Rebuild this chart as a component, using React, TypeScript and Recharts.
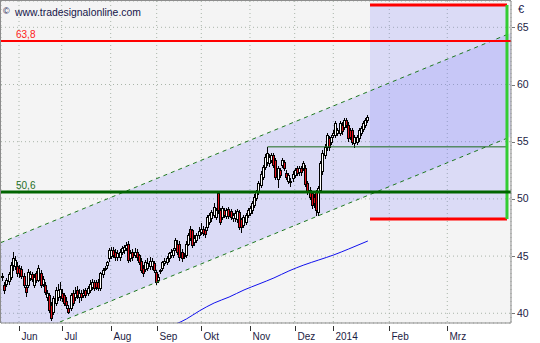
import React from 'react';
import { ComposedChart, Bar, Line, Area, XAxis, YAxis, CartesianGrid, ReferenceLine } from 'recharts';

// ---- candle data (trading-day index i = position in arrays) ----
const opens = [
  43.2, 42.5, 42.6, 42.8, 43.2, 44.2, 44.1, 44.1, 44.0, 43.9,
  43.3, 42.3, 42.5, 43.1, 43.4, 42.5, 43.5, 42.9, 43.5, 42.6,
  42.5, 41.4, 41.6, 40.7, 40.1, 40.9, 41.4, 41.5, 41.8, 41.6,
  41.1, 40.5, 40.5, 41.8, 41.4, 42.0, 41.4, 41.8, 41.6, 42.0,
  41.8, 42.0, 42.3, 42.7, 42.7, 42.7, 42.2, 43.4, 43.95, 44.2,
  44.8, 45.0, 45.5, 45.4, 44.9, 44.9, 45.4, 45.5, 45.7, 46.1,
  44.8, 45.4, 45.1, 45.4, 45.1, 44.6, 44.0, 43.9, 44.0, 44.1,
  44.1, 44.4, 43.6, 42.9, 43.7, 44.0, 44.4, 44.5, 44.8, 45.1,
  45.1, 45.7, 46.1, 46.1, 45.4, 45.05, 45.1, 46.1, 47.4, 47.3,
  46.2, 46.4, 46.8, 47.1, 47.4, 47.3, 47.5, 48.0, 48.3, 48.6,
  48.4, 50.5, 49.0, 48.4, 49.0, 48.5, 49.1, 48.9, 48.35, 48.3,
  48.2, 48.85, 48.2, 47.7, 48.0, 48.6, 48.8, 49.0, 49.5, 50.1,
  50.6, 51.2, 51.9, 52.8, 53.2, 53.1, 53.4, 53.8, 53.4, 51.7,
  52.5, 53.0, 53.2, 52.3, 51.6, 51.5, 51.8, 52.1, 52.7, 52.35,
  52.7, 52.7, 52.7, 51.4, 50.8, 50.5, 50.2, 50.6, 48.85, 50.8,
  52.4, 53.8, 54.5, 55.3, 55.0, 55.6, 55.6, 55.8, 55.8, 56.5,
  56.3, 56.9, 56.5, 56.0, 56.0, 54.9, 55.0, 55.3, 55.8, 56.1,
  56.5, 56.9,
];
const highs = [
  43.5, 42.7, 43.1, 43.6, 44.5, 45.4, 45.0, 44.5, 44.2, 44.1,
  43.5, 42.5, 43.9, 43.7, 43.6, 43.4, 43.7, 44.2, 43.8, 43.3,
  42.7, 42.0, 41.8, 41.0, 41.5, 42.3, 42.6, 42.7, 42.1, 41.8,
  41.4, 40.7, 41.8, 42.0, 42.3, 42.4, 42.1, 42.0, 42.1, 42.2,
  42.4, 42.9, 43.0, 42.9, 42.9, 43.0, 43.6, 44.0, 44.1, 44.6,
  45.7, 45.8, 45.8, 45.6, 45.5, 45.6, 45.9, 46.0, 46.2, 46.3,
  45.5, 45.6, 45.7, 45.6, 45.2, 44.8, 44.2, 44.7, 44.8, 44.9,
  44.8, 44.6, 43.8, 43.4, 43.9, 44.6, 44.8, 45.0, 45.4, 45.6,
  45.7, 46.6, 46.4, 46.3, 45.6, 45.3, 46.3, 47.0, 47.6, 47.4,
  46.8, 47.0, 47.5, 47.9, 47.6, 47.5, 48.6, 48.8, 49.0, 49.6,
  49.2, 50.6, 49.2, 49.4, 49.2, 49.2, 49.3, 49.1, 48.8, 49.0,
  49.1, 49.0, 48.3, 48.6, 48.8, 49.2, 49.4, 49.8, 50.4, 50.8,
  51.6, 52.4, 53.0, 53.9, 54.55, 53.9, 54.0, 54.0, 53.6, 52.9,
  52.7, 53.6, 53.4, 52.5, 52.3, 51.8, 52.4, 52.7, 52.9, 52.9,
  52.9, 53.3, 53.0, 51.6, 51.0, 50.7, 50.4, 50.8, 51.1, 53.3,
  54.3, 54.8, 55.8, 55.5, 55.6, 56.0, 56.8, 56.2, 56.8, 56.7,
  57.1, 57.1, 56.7, 56.2, 56.2, 55.6, 55.6, 56.2, 56.4, 56.8,
  57.1, 57.3,
];
const lows = [
  42.9, 41.8, 42.4, 42.6, 43.0, 43.8, 43.9, 43.3, 43.2, 43.1,
  42.3, 41.5, 42.3, 42.9, 42.8, 42.3, 42.7, 42.8, 42.3, 42.4,
  41.7, 41.2, 40.1, 39.45, 39.9, 40.7, 41.2, 41.2, 41.1, 40.7,
  40.5, 40.0, 40.3, 40.7, 41.2, 41.3, 41.0, 41.2, 41.4, 41.4,
  41.6, 41.9, 42.1, 42.0, 42.1, 42.0, 42.0, 43.2, 43.8, 44.0,
  44.6, 44.8, 44.9, 44.7, 44.7, 44.7, 45.2, 45.3, 45.5, 44.5,
  44.6, 44.7, 44.9, 44.7, 44.3, 43.6, 43.3, 43.7, 43.8, 43.9,
  43.9, 43.6, 42.6, 42.7, 43.5, 43.8, 44.2, 44.3, 44.6, 44.9,
  44.9, 45.5, 45.2, 44.7, 44.6, 44.8, 44.9, 46.0, 46.4, 45.8,
  46.0, 46.2, 46.6, 46.9, 46.8, 46.7, 47.3, 47.8, 48.1, 48.4,
  48.2, 48.8, 47.8, 48.2, 48.4, 48.3, 48.3, 48.2, 48.1, 48.1,
  48.0, 47.4, 47.1, 47.5, 47.8, 48.4, 48.6, 48.8, 49.3, 49.9,
  50.4, 51.0, 51.7, 52.6, 53.0, 52.9, 53.2, 52.8, 51.7, 51.0,
  51.9, 52.8, 52.5, 51.7, 51.4, 51.1, 51.6, 51.9, 52.1, 52.1,
  52.1, 52.5, 51.1, 50.4, 50.0, 49.2, 49.3, 48.6, 48.6, 50.6,
  52.2, 53.6, 54.3, 54.3, 54.8, 55.4, 55.4, 55.6, 55.6, 55.7,
  56.1, 56.3, 55.1, 55.2, 54.8, 54.55, 54.8, 55.1, 55.6, 55.9,
  56.3, 56.7,
];
const closes = [
  43.3, 42.0, 42.9, 43.4, 44.2, 44.8, 44.7, 43.5, 43.5, 43.3,
  42.5, 41.9, 43.6, 43.4, 43.0, 43.2, 42.9, 44.0, 42.5, 43.0,
  41.9, 41.8, 40.3, 39.6, 41.3, 42.0, 42.0, 42.1, 41.3, 40.9,
  40.7, 40.1, 41.6, 40.9, 41.8, 41.6, 41.8, 41.4, 41.8, 41.6,
  42.2, 42.6, 42.7, 42.2, 42.3, 42.2, 43.5, 43.8, 44.0, 44.5,
  45.5, 45.5, 45.1, 44.9, 45.3, 45.4, 45.7, 45.8, 46.0, 44.7,
  45.3, 44.9, 45.4, 44.9, 44.5, 43.8, 43.5, 44.5, 44.4, 44.6,
  44.6, 43.8, 42.7, 43.2, 43.75, 44.5, 44.6, 44.8, 45.3, 45.4,
  45.5, 46.4, 45.4, 44.9, 44.8, 45.1, 46.1, 46.8, 46.6, 46.0,
  46.6, 46.8, 47.2, 47.4, 47.0, 46.9, 48.4, 48.6, 48.85, 49.3,
  49.0, 49.0, 48.0, 49.2, 48.6, 49.0, 48.5, 48.4, 48.6, 48.8,
  48.9, 47.55, 47.5, 48.4, 48.6, 49.0, 49.2, 49.6, 50.2, 50.6,
  51.4, 52.2, 52.8, 53.7, 54.0, 53.7, 53.8, 53.0, 51.9, 52.7,
  52.1, 53.4, 52.7, 51.9, 52.1, 51.55, 52.2, 52.5, 52.3, 52.7,
  52.35, 53.1, 51.3, 50.6, 50.2, 49.5, 49.6, 49.0, 50.95, 53.1,
  54.0, 54.5, 55.6, 54.5, 55.4, 55.8, 56.6, 56.0, 56.6, 55.9,
  56.9, 56.5, 55.3, 55.4, 55.0, 55.4, 55.4, 56.0, 56.2, 56.6,
  56.9, 57.15,
];

// ---- moving average (blue) ----
const maIdx = [76, 86, 92, 99, 106, 113, 120, 127, 134, 141, 148, 155, 162, 171];
const maVal = [38.7, 39.5, 40.2, 40.9, 41.42, 42.04, 42.56, 43.09, 43.7, 44.22, 44.66, 45.1, 45.62, 46.32];

// ---- trend channel ----
const chanIdx = [-1, 239];
const chanUpper = [46.17, 64.58];
const chanLower = [37.11, 55.52];

// ---- target box ----
const boxIdx = [172.0, 236.16];
const boxTop = 66.95;
const boxBottom = 48.24;

// ---- horizontal levels ----
const levelRed = 63.8;
const levelGreen = 50.6;
const resistStartIdx = 124;
const resistLevel = 54.55;

// ---- axes ----
const X_DOMAIN = [-0.843, 238.04];
const Y_DOMAIN = [39.15, 67.3];
const yTicks = [40, 45, 50, 55, 60, 65];
const monthTicks = [7.59, 27.59, 50.54, 72.08, 92.97, 115.78, 136.72, 154.8, 181.03, 208.2];
const monthLabels = ['Jun', 'Jul', 'Aug', 'Sep', 'Okt', 'Nov', 'Dez', '2014', 'Feb', 'Mrz'];

const FONT = '"Liberation Sans", Arial, sans-serif';

const candles = opens.map((o, i) => ({ i, o, h: highs[i], l: lows[i], c: closes[i] }));
const maData = maIdx.map((i, k) => ({ i, v: maVal[k] }));
const channelData = chanIdx.map((i, k) => ({ i, band: [chanLower[k], chanUpper[k]], up: chanUpper[k], lo: chanLower[k] }));
const boxData = boxIdx.map((i) => ({ i, band: [boxBottom, boxTop] }));
const boxTopData = boxIdx.map((i) => ({ i, v: boxTop }));
const boxBottomData = boxIdx.map((i) => ({ i, v: boxBottom }));
const boxSideData = [{ i: boxIdx[1], v: boxTop }, { i: boxIdx[1], v: boxBottom }];
const resistData = [{ i: resistStartIdx, v: resistLevel }, { i: boxIdx[1], v: resistLevel }];

const Candle = (props: any) => {
  const { x, y, width, height, payload } = props;
  if (x == null || y == null) return null;
  const { o, h, l, c } = payload;
  const center = x + width / 2;
  const p = Math.floor(center);
  const span = h - l || 1;
  const py = (v: number) => y + ((h - v) / span) * height;
  let top = Math.round(py(Math.max(o, c)));
  let bot = Math.round(py(Math.min(o, c)));
  if (bot - top < 1) bot = top + 1;
  const up = c >= o;
  return (
    <g>
      <line x1={p + 0.5} x2={p + 0.5} y1={Math.round(y)} y2={Math.round(y + height) + 1} stroke="#000" strokeWidth={1} />
      <rect x={p - 0.5} y={top + 0.5} width={2} height={bot - top} fill={up ? '#ffffff' : '#e0101a'} stroke="#000" strokeWidth={1} />
    </g>
  );
};

const MonthTick = (props: any) => {
  const { x, y, payload } = props;
  const k = monthTicks.indexOf(payload.value);
  const px = Math.round(x) + 0.5;
  return (
    <g>
      <line x1={px} x2={px} y1={y + 3} y2={y + 8} stroke="#333" strokeWidth={1} />
      <text x={px + 2} y={y + 16.5} fontSize={10} fontFamily={FONT} fill="#1c1c44">{monthLabels[k]}</text>
    </g>
  );
};

const PriceTick = (props: any) => {
  const { x, y, payload } = props;
  const py = Math.round(y) + 0.5;
  return (
    <g>
      <line x1={x + 1} x2={x + 4} y1={py} y2={py} stroke="#777" strokeWidth={1} />
      <text x={x + 6} y={y + 3.6} fontSize={10.5} fontFamily={FONT} fill="#1c1c44">{payload.value}</text>
    </g>
  );
};

const levelLabel = (text: string, color: string) => (props: any) => {
  const vb = props.viewBox || {};
  return (
    <text x={(vb.x || 0) + 15} y={(vb.y || 0) - 3.5} fontSize={10} fontFamily={FONT} fill={color}>{text}</text>
  );
};

export default function App() {
  return (
    <div style={{ position: 'absolute', left: 0, top: 0, width: 540, height: 343, background: '#ffffff' }}>
      <ComposedChart
        width={540}
        height={343}
        data={candles}
        margin={{ top: 1, right: 0, bottom: 0, left: 1 }}
      >
        <CartesianGrid stroke="#a9b4a9" strokeDasharray="1 3" fill="#f4f4f4" />
        <XAxis
          type="number"
          dataKey="i"
          domain={X_DOMAIN}
          ticks={monthTicks}
          interval={0}
          allowDataOverflow
          height={20}
          tickSize={0}
          tickMargin={0}
          tickLine={false}
          axisLine={{ stroke: '#8c8c8c' }}
          tick={<MonthTick />}
        />
        <YAxis
          orientation="right"
          type="number"
          domain={Y_DOMAIN}
          ticks={yTicks}
          interval={0}
          allowDataOverflow
          width={29}
          tickSize={0}
          tickMargin={0}
          tickLine={false}
          axisLine={{ stroke: '#8c8c8c' }}
          tick={<PriceTick />}
        />
        <Area data={channelData} dataKey="band" type="linear" stroke="none" fill="#7878ff" fillOpacity={0.2} isAnimationActive={false} />
        <Area data={boxData} dataKey="band" type="linear" stroke="none" fill="#7878ff" fillOpacity={0.2} isAnimationActive={false} />
        <Bar dataKey={(d: any) => [d.l, d.h]} barSize={3} shape={(p: any) => <Candle {...p} />} isAnimationActive={false} />
        <Line data={maData} dataKey="v" type="monotone" stroke="#1010ee" strokeWidth={1} dot={false} isAnimationActive={false} />
        <Line data={channelData} dataKey="up" type="linear" stroke="#1e7a1e" strokeWidth={1} strokeDasharray="4 4" dot={false} isAnimationActive={false} />
        <Line data={channelData} dataKey="lo" type="linear" stroke="#1e7a1e" strokeWidth={1} strokeDasharray="4 4" dot={false} isAnimationActive={false} />
        <Line data={resistData} dataKey="v" type="linear" stroke="#1a6a1a" strokeWidth={1} dot={false} isAnimationActive={false} />
        <Line data={boxTopData} dataKey="v" type="linear" stroke="#ff0000" strokeWidth={3} dot={false} isAnimationActive={false} />
        <Line data={boxBottomData} dataKey="v" type="linear" stroke="#ff0000" strokeWidth={3} dot={false} isAnimationActive={false} />
        <Line data={boxSideData} dataKey="v" type="linear" stroke="#33cc33" strokeWidth={3} dot={false} isAnimationActive={false} />
        <ReferenceLine y={levelRed} stroke="#ff0000" strokeWidth={2} label={levelLabel('63,8', '#ff2020')} />
        <ReferenceLine y={levelGreen} stroke="#006400" strokeWidth={3} label={levelLabel('50,6', '#1f6f1f')} />
      </ComposedChart>
      <svg width={540} height={343} style={{ position: 'absolute', left: 0, top: 0, pointerEvents: 'none' }}>
        <line x1={0.5} x2={0.5} y1={0} y2={323} stroke="#8c8c8c" />
        <line x1={0} x2={511} y1={0.5} y2={0.5} stroke="#8c8c8c" />
        <text x={3} y={14} fontSize={9} fontFamily={FONT} fill="#14144a">©</text>
        <text x={15} y={15.5} fontSize={10.4} fontFamily={FONT} fill="#14144a">www.tradesignalonline.com</text>
        <text x={518} y={13} fontSize={11} fontFamily={FONT} fill="#14144a">€</text>
      </svg>
    </div>
  );
}
